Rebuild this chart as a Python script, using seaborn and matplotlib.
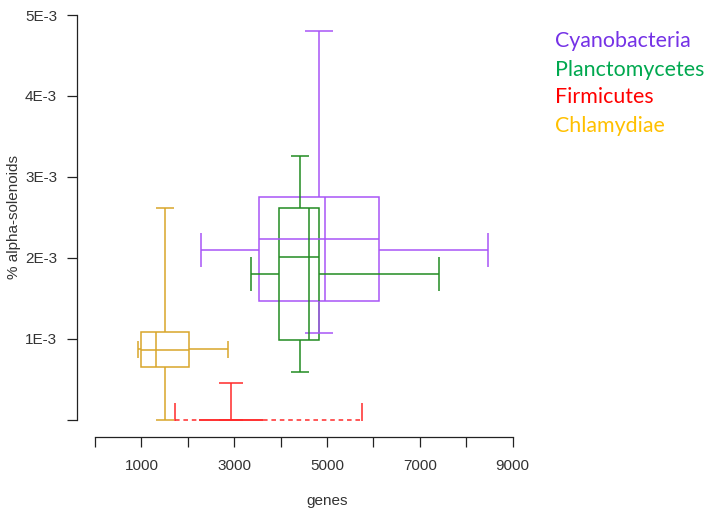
import pandas as pd
import matplotlib
matplotlib.use("Agg")
import matplotlib.pyplot as plt
from matplotlib.patches import Rectangle
import seaborn as sns

# values
phyla = ["Cyanobacteria", "Planctomycetes", "Firmicutes", "Chlamydiae"]

genes_low = [2276, 3353, 1723, 919]
genes_q1 = [3542, 3966, 2246, 997]
genes_med = [4959, 4602, 2929, 1307]
genes_q3 = [6120, 4817, 3624, 2031]
genes_high = [8469, 7414, 5756, 2857]

sol_low = [1.071e-3, 0.594e-3, 0.0, 0.0]
sol_q1 = [1.467e-3, 0.989e-3, 0.0, 0.650e-3]
sol_med = [2.230e-3, 2.007e-3, 0.0, 0.866e-3]
sol_q3 = [2.753e-3, 2.622e-3, 0.0, 1.083e-3]
sol_high = [4.802e-3, 3.260e-3, 0.449e-3, 2.622e-3]

# where the whiskers cross the boxes
whisker_genes = [4823, 4410, 2929, 1501]
whisker_sol = [2.102e-3, 1.797e-3, 0.0, 0.869e-3]

x_ticks = [0, 1000, 2000, 3000, 4000, 5000, 6000, 7000, 8000, 9000]
x_labels = ["", "1000", "", "3000", "", "5000", "", "7000", "", "9000"]
y_ticks = [0, 1e-3, 2e-3, 3e-3, 4e-3, 5e-3]
y_labels = ["", "1E-3", "2E-3", "3E-3", "4E-3", "5E-3"]

# styles
line_colors = ["#A855F7", "#228B22", "#FF2A2A", "#D9A62A"]
text_colors = ["#7532E6", "#00A84F", "#FF0000", "#FFC000"]
whisker_styles = ["-", "-", (0, (3, 2.5)), "-"]
cap_h = [0.21e-3, 0.21e-3, 0.21e-3, 0.10e-3]   # caps of the horizontal whisker
cap_w = [297, 195, 260, 195]                   # caps of the vertical whisker
LW = 1.1


def draw_box2d(ax, row, color, ls, ch, cw):
    """Draw one two-way box plot (genes on x, solenoids on y)."""
    ax.add_patch(Rectangle(
        (row.g_q1, row.s_q1),
        row.g_q3 - row.g_q1,
        row.s_q3 - row.s_q1,
        fill=False, edgecolor=color, linewidth=LW
    ))
    # medians
    ax.vlines(row.g_med, row.s_q1, row.s_q3, color=color, linewidth=LW)
    ax.hlines(row.s_med, row.g_q1, row.g_q3, color=color, linewidth=LW)

    # horizontal whisker
    ax.hlines([row.w_sol, row.w_sol], [row.g_low, row.g_q3], [row.g_q1, row.g_high],
              color=color, linewidth=LW, linestyles=[ls])
    ax.vlines([row.g_low, row.g_high], row.w_sol - ch, row.w_sol + ch,
              color=color, linewidth=LW)

    # vertical whisker
    ax.vlines([row.w_genes, row.w_genes], [row.s_low, row.s_q3], [row.s_q1, row.s_high],
              color=color, linewidth=LW)
    ax.hlines([row.s_low, row.s_high], row.w_genes - cw, row.w_genes + cw,
              color=color, linewidth=LW)


def main():
    df = pd.DataFrame({
        "phylum": phyla,
        "g_low": genes_low, "g_q1": genes_q1, "g_med": genes_med,
        "g_q3": genes_q3, "g_high": genes_high,
        "s_low": sol_low, "s_q1": sol_q1, "s_med": sol_med,
        "s_q3": sol_q3, "s_high": sol_high,
        "w_genes": whisker_genes, "w_sol": whisker_sol,
    })

    sns.set_style("ticks")
    plt.rcParams["font.family"] = ["Liberation Sans", "DejaVu Sans"]

    fig = plt.figure(figsize=(7.08, 5.16), dpi=100)
    ax = fig.add_axes([0.1342, 0.1849, 0.5932, 0.7938])

    for i, row in enumerate(df.itertuples()):
        draw_box2d(ax, row, line_colors[i], whisker_styles[i], cap_h[i], cap_w[i])

    ax.set_xlim(0, 9050)
    ax.set_ylim(-0.01e-3, 5.05e-3)
    ax.set_xticks(x_ticks)
    ax.set_xticklabels(x_labels)
    ax.set_yticks(y_ticks)
    ax.set_yticklabels(y_labels)

    ax.tick_params(axis="both", length=7.2, width=0.9, color="#222222",
                   labelsize=11, labelcolor="#333333")
    ax.tick_params(axis="x", pad=8.5)
    ax.tick_params(axis="y", pad=7)

    sns.despine(ax=ax, offset={"left": 13, "bottom": 12}, trim=True)
    for side in ["left", "bottom"]:
        ax.spines[side].set_linewidth(0.9)
        ax.spines[side].set_color("#222222")

    ax.set_xlabel("genes", fontsize=11, color="#333333")
    ax.xaxis.set_label_coords(0.552, -0.196)
    ax.xaxis.label.set_va("center")
    ax.set_ylabel("% alpha-solenoids", fontsize=11, color="#333333")
    ax.yaxis.set_label_coords(-0.194, 0.497)
    ax.yaxis.label.set_va("center")

    # coloured names on the right
    legend_y = [40.7, 70, 97, 126]
    for name, col, py in zip(phyla, text_colors, legend_y):
        fig.text(555 / 708, 1 - py / 516, name, color=col, fontsize=15.4,
                 family=["Lato", "DejaVu Sans"], ha="left", va="center")

    fig.savefig("out.png", dpi=100)


if __name__ == "__main__":
    main()
